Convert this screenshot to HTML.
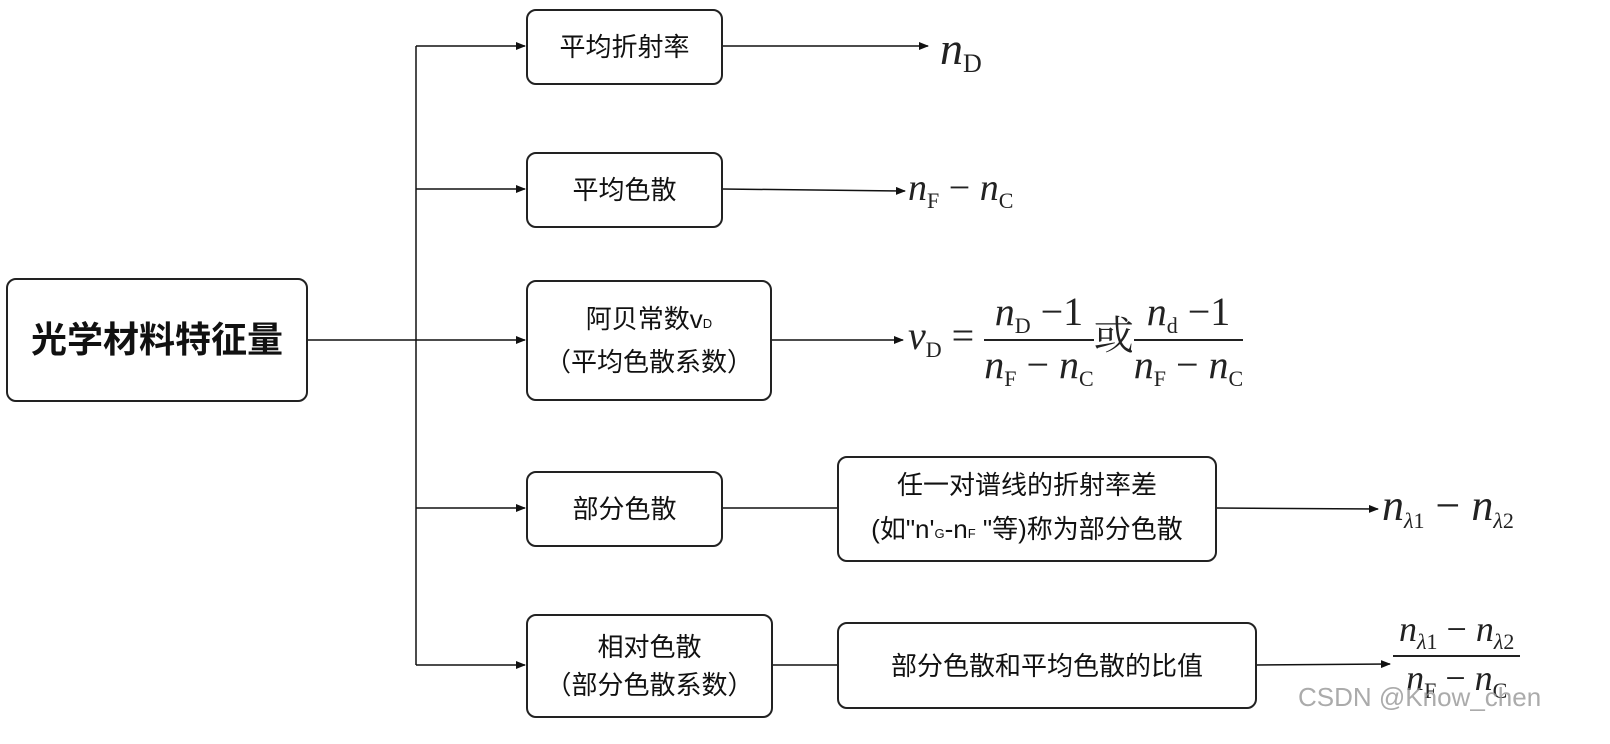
<!DOCTYPE html>
<html><head><meta charset="utf-8"><style>
body{margin:0;width:1610px;height:744px;background:#fff;position:relative;overflow:hidden;font-family:"Liberation Sans","Noto Sans CJK SC",sans-serif;color:#111}
.b{position:absolute;border:2px solid #222;border-radius:10px;box-sizing:border-box;display:flex;align-items:center;justify-content:center;text-align:center;font-size:26px;line-height:38px}
.b>div{white-space:nowrap}
.m{position:absolute;font-family:"Liberation Serif","Noto Serif CJK SC",serif;font-size:36px;color:#222;white-space:nowrap}
.m i{font-style:italic}
.m sub{font-size:22px;vertical-align:-8px}
.fr{display:inline-block;text-align:center;vertical-align:middle}
.fr span{display:block}
.fr .n{border-bottom:2px solid #222;padding:0 6px}
small{font-size:13px}
</style></head><body>
<svg width="1610" height="744" style="position:absolute;left:0;top:0">
<defs><marker id="a" markerWidth="10" markerHeight="8" refX="9" refY="4" orient="auto" markerUnits="userSpaceOnUse"><path d="M0,0L10,4L0,8z" fill="#111"/></marker></defs>
<g stroke="#111" stroke-width="1.5" fill="none">
<line x1="307" y1="340" x2="416" y2="340"/>
<line x1="416" y1="46" x2="416" y2="665"/>
<line x1="416" y1="46" x2="525" y2="46" marker-end="url(#a)"/>
<line x1="416" y1="189" x2="525" y2="189" marker-end="url(#a)"/>
<line x1="416" y1="340" x2="525" y2="340" marker-end="url(#a)"/>
<line x1="416" y1="508" x2="525" y2="508" marker-end="url(#a)"/>
<line x1="416" y1="665" x2="525" y2="665" marker-end="url(#a)"/>
<line x1="722" y1="46" x2="928" y2="46" marker-end="url(#a)"/>
<line x1="722" y1="189" x2="905" y2="191" marker-end="url(#a)"/>
<line x1="771" y1="340" x2="903" y2="340" marker-end="url(#a)"/>
<line x1="722" y1="508" x2="837" y2="508"/>
<line x1="1216" y1="508" x2="1378" y2="509" marker-end="url(#a)"/>
<line x1="772" y1="665" x2="837" y2="665"/>
<line x1="1256" y1="665" x2="1390" y2="664" marker-end="url(#a)"/>
</g></svg>
<div class="b" style="left:6px;top:278px;width:302px;height:124px;font-size:36px;font-weight:bold"><div>光学材料特征量</div></div>
<div class="b" style="left:526px;top:9px;width:197px;height:76px"><div>平均折射率</div></div>
<div class="b" style="left:526px;top:152px;width:197px;height:76px"><div>平均色散</div></div>
<div class="b" style="left:526px;top:280px;width:246px;height:121px"><div>阿贝常数v<small>D</small><br>（平均色散系数）</div></div>
<div class="b" style="left:526px;top:471px;width:197px;height:76px"><div>部分色散</div></div>
<div class="b" style="left:526px;top:614px;width:247px;height:104px"><div>相对色散<br>（部分色散系数）</div></div>
<div class="b" style="left:837px;top:456px;width:380px;height:106px;line-height:44px"><div>任一对谱线的折射率差<br>(如"n'<small>G</small>-n<small>F</small> "等)称为部分色散</div></div>
<div class="b" style="left:837px;top:622px;width:420px;height:87px"><div>部分色散和平均色散的比值</div></div>
<div class="m" style="left:940px;top:22px;font-size:46px"><i>n</i><sub style="font-size:26px">D</sub></div>
<div class="m" style="left:908px;top:166px;font-size:38px"><i>n</i><sub>F</sub> − <i>n</i><sub>C</sub></div>
<div class="m" style="left:908px;top:288px;font-size:40px"><i>v</i><sub>D</sub> = <span class="fr"><span class="n"><i>n</i><sub>D</sub> −1</span><span><i>n</i><sub>F</sub> − <i>n</i><sub>C</sub></span></span>或<span class="fr"><span class="n"><i>n</i><sub>d</sub> −1</span><span><i>n</i><sub>F</sub> − <i>n</i><sub>C</sub></span></span></div>
<div class="m" style="left:1382px;top:480px;font-size:44px"><i>n</i><sub><i>λ</i>1</sub> − <i>n</i><sub><i>λ</i>2</sub></div>
<div class="m" style="left:1393px;top:608px;font-size:36px"><span class="fr"><span class="n"><i>n</i><sub><i>λ</i>1</sub> − <i>n</i><sub><i>λ</i>2</sub></span><span><i>n</i><sub>F</sub> − <i>n</i><sub>C</sub></span></span></div>
<div style="position:absolute;left:1298px;top:682px;font-size:26px;color:rgba(150,150,150,0.8)">CSDN @Know_chen</div>
</body></html>
